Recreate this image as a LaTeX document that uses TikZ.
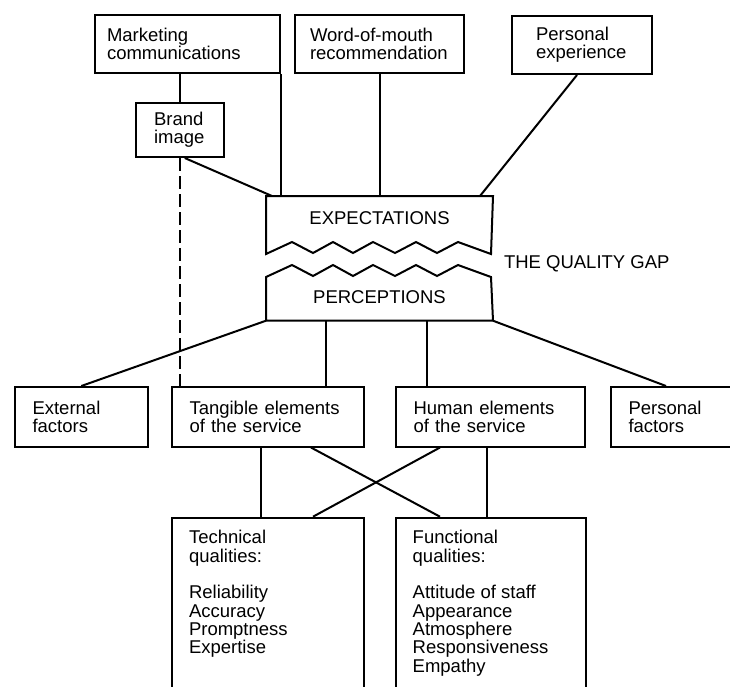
\documentclass[tikz,border=0pt]{standalone}
\usepackage{fontspec}
\setmainfont{Liberation Sans}

\begin{document}
\begin{tikzpicture}[x=1pt,y=-1pt,line width=2pt,font=\fontsize{18.5}{18.3}\selectfont]

\tikzset{
box/.style={
    draw,
    anchor=north west,
    align=left,
    inner ysep=0pt
},
listbox/.style={
    draw,
    anchor=north west,
    inner xsep=17pt,
    inner ysep=12.8pt
},
gapbox/.style={
    minimum width=225pt,
    inner sep=0pt
},
dashlink/.style={dash pattern=on 13pt off 5pt}
}

\useasboundingbox (0,0) rectangle (730,686);
\clip (0,0) rectangle (730,686);

% sources of expectations
\node[box, minimum height=58pt, text width=161pt, inner xsep=12pt] (mkt) at (94,14) {Marketing\\communications};
\node[box, minimum height=58pt, text width=139pt, inner xsep=15pt] (wom) at (294,14) {Word-of-mouth\\recommendation};
\node[box, minimum height=58pt, text width=92pt, inner xsep=24pt] (pex) at (511,15) {Personal\\experience};
\node[box, minimum height=54pt, text width=51.5pt, inner xsep=18pt] (brand) at (135,102) {Brand\\image};

% the gap
\node[gapbox, anchor=north west, minimum height=43pt] (expect) at (266,196) {EXPECTATIONS};
\node[gapbox, anchor=south west, minimum height=45pt] (percept) at (266,320.7) {PERCEPTIONS};
\node[anchor=west, inner sep=0pt] (gap) at (503,264) {THE QUALITY GAP};

\draw (expect.north west) -- (expect.north east) -- (491,254) -- (458,242) -- (437,253)
  -- (416,242) -- (395,253) -- (373,242) -- (353,253) -- (333,242) -- (313,253)
  -- (292,242) -- (266,254) -- cycle;
\draw (percept.south west) -- (percept.south east) -- (491,277) -- (458,265) -- (437,276)
  -- (416,265) -- (395,276) -- (373,265) -- (353,276) -- (333,265) -- (313,276)
  -- (292,265) -- (266,277) -- cycle;

% perception factors
\node[box, minimum height=59.5pt, text width=97.6pt, inner xsep=17.5pt] (ext) at (14,386) {External\\factors};
\node[box, minimum height=59.5pt, text width=157pt, inner xsep=17.5pt] (tang) at (171,386) {Tangible elements\\of the service};
\node[box, minimum height=59.5pt, text width=154pt, inner xsep=17.5pt] (hum) at (395,386) {Human elements\\of the service};
\node[box, minimum height=59.5pt, text width=105pt, inner xsep=17.5pt] (pfac) at (610,386) {Personal\\factors};

% qualities
\node[listbox] (tech) at (171,516.7) {\parbox[t][180pt][t]{158pt}{Technical\\qualities:\\[18.3pt]Reliability\\Accuracy\\Promptness\\Expertise}};
\node[listbox, inner xsep=16.7pt] (func) at (395,516.7) {\parbox[t][180pt][t]{156.6pt}{Functional\\qualities:\\[18.3pt]Attitude of staff\\Appearance\\Atmosphere\\Responsiveness\\Empathy}};

% links into expectations
\draw (mkt.south -| brand.north) -- (brand.north);
\draw (mkt.south east) -- (mkt.south east |- expect.north);
\draw (wom.south) -- (wom.south |- expect.north);
\draw ([xshift=-5pt]pex.south) -- ([xshift=-13pt]expect.north east);
\draw ([xshift=5pt]brand.south) -- ([xshift=6pt]expect.north west);
\draw[dashlink] (brand.south) -- (brand.south |- tang.north);

% links out of perceptions
\coordinate (ptang) at ([xshift=60pt]percept.south west);
\coordinate (phum) at ([xshift=-66pt]percept.south east);
\draw (percept.south west) -- (ext.north);
\draw (ptang) -- (ptang |- tang.north);
\draw (phum) -- (phum |- hum.north);
\draw (percept.south east) -- ([xshift=56pt]pfac.north west);

% service elements to qualities
\coordinate (ttech) at ([xshift=90pt]tang.south west);
\coordinate (hfunc) at ([xshift=91.5pt]hum.south west);
\draw (ttech) -- (ttech |- tech.north);
\draw ([xshift=140pt]tang.south west) -- ([xshift=45pt]func.north west);
\draw ([xshift=45pt]hum.south west) -- ([xshift=142pt]tech.north west);
\draw (hfunc) -- (hfunc |- func.north);

\end{tikzpicture}
\end{document}
